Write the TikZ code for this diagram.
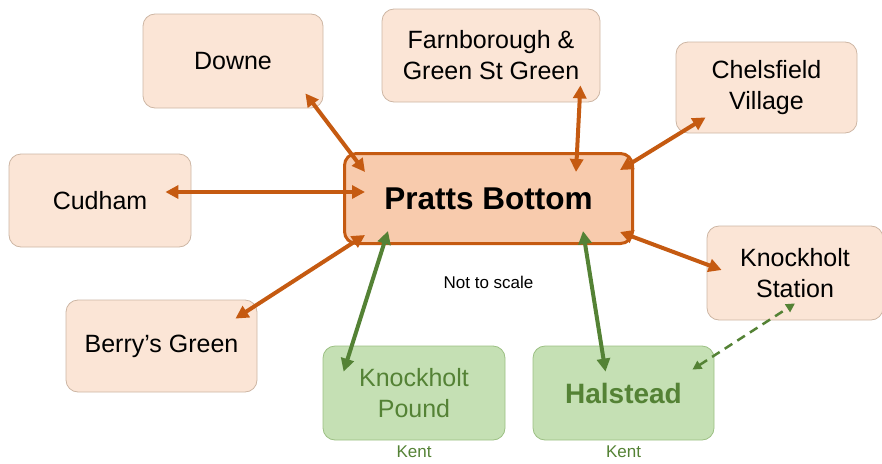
\documentclass[tikz,border=0pt]{standalone}
\usepackage{fontspec}
\setmainfont{Liberation Sans}
\usetikzlibrary{calc, positioning, arrows.meta}
\definecolor{peach}{HTML}{FBE5D6}
\definecolor{peachdark}{HTML}{F8CBAD}
\definecolor{rust}{HTML}{C55A11}
\definecolor{peachline}{HTML}{CDB6A4}
\definecolor{leaf}{HTML}{C5E0B4}
\definecolor{leafline}{HTML}{9CC083}
\definecolor{vert}{HTML}{548235}

\begin{document}
\begin{tikzpicture}[x=1pt, y=-1pt]
  \tikzstyle{place}=[draw=peachline, fill=peach, rounded corners=12pt,
    line width=0.8pt, align=center, font=\fontsize{25}{31}\selectfont]
  \tikzstyle{kent}=[draw=leafline, fill=leaf, rounded corners=12pt,
    line width=0.8pt, align=center, text=vert,
    font=\fontsize{25}{31}\selectfont]
  \tikzstyle{route}=[{Triangle[length=13pt,width=13pt]}-{Triangle[length=13pt,width=13pt]},
    line width=4pt, color=rust]
  \tikzstyle{road}=[route, color=vert]
  \tikzstyle{small}=[font=\fontsize{17}{20}\selectfont]
  \useasboundingbox (0,0) rectangle (882,463);
  \node[draw=rust, fill=peachdark, rounded corners=12pt, line width=3pt,
    minimum width=288pt, minimum height=90pt,
    font=\fontsize{31.5}{36}\selectfont\bfseries] (pb) at (488.5,198.5) {Pratts Bottom};
  \node[place, minimum width=180pt, minimum height=94pt] (downe) at (233,61) {Downe};
  \node[place, minimum width=218pt, minimum height=93pt] (farn) at (491,55.5)
    {Farnborough \&\\Green St Green};
  \node[place, minimum width=181pt, minimum height=91pt] (chels) at (766.5,87.5)
    {Chelsfield\\Village};
  \node[place, minimum width=182pt, minimum height=93pt] (cud) at (100,200.5) {Cudham};
  \node[place, minimum width=176pt, minimum height=94pt] (kstat) at (795,273)
    {Knockholt\\Station};
  \node[place, minimum width=191pt, minimum height=92pt] (berry) at (161.5,346)
    {Berry’s Green};
  \node[kent, minimum width=182pt, minimum height=94pt] (kpound) at (414,393)
    {Knockholt\\Pound};
  \node[kent, minimum width=181pt, minimum height=94pt,
    font=\fontsize{28}{31}\selectfont\bfseries] (hal) at (623.5,393) {Halstead};
  \node[below=2pt of kpound, text=vert, small] (kent1) {Kent};
  \node[below=2pt of hal, text=vert, small] (kent2) {Kent};
  \node[below=28pt of pb, small] (scale) {Not to scale};
  \draw[route] ($(downe.south east)+(-18,-15)$) -- ($(pb.north west)+(22,20)$);
  \draw[route] ($(farn.south east)+(-20,-17)$) -- ($(pb.north east)+(-58,20)$);
  \draw[route] ($(chels.south west)+(30,-16)$) -- ($(pb.north east)+(-14,18)$);
  \draw[route] ($(cud.east)+(-26,-8.5)$) -- ($(pb.west)+(22,-6.5)$);
  \draw[route] ($(berry.north east)+(-22,19)$) -- ($(pb.south west)+(22,-10)$);
  \draw[route] ($(kstat.west)+(15,-3)$) -- ($(pb.south east)+(-14,-13)$);
  \draw[road] ($(kpound.north west)+(21,26)$) -- ($(pb.south west)+(45,-14)$);
  \draw[road] ($(hal.north)+(-18,26)$) -- ($(pb.south east)+(-51,-14)$);
  \draw[{Triangle[length=9pt,width=9pt]}-{Triangle[length=9pt,width=9pt]},
    line width=2.5pt, color=vert, dash pattern=on 9pt off 6pt]
    ($(hal.north east)+(-22,24)$) -- ($(kstat.south)+(0,-17)$);
\end{tikzpicture}
\end{document}
